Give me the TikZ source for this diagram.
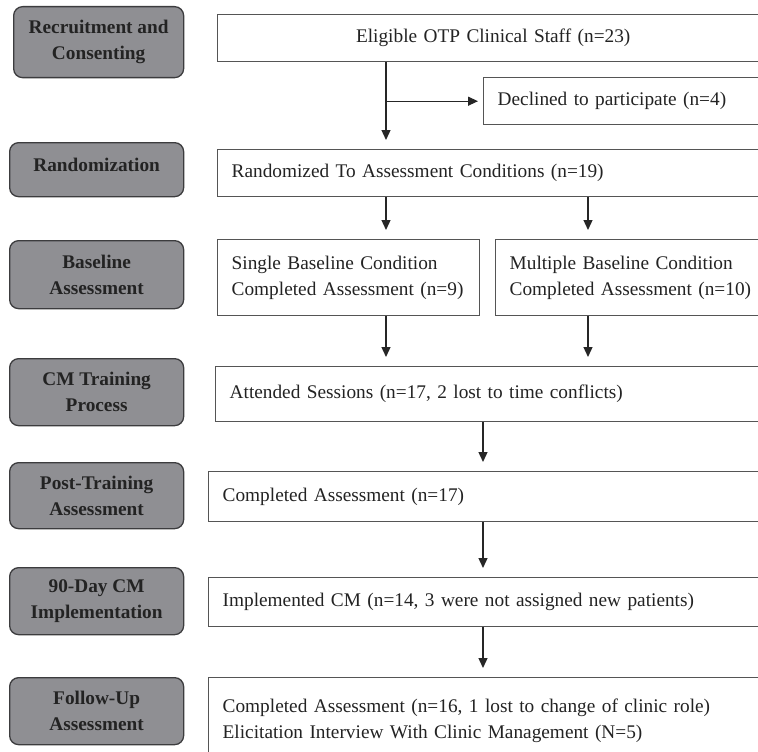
\documentclass[tikz,border=0pt]{standalone}
\usepackage{fontspec}
\setmainfont{Liberation Serif}
\usetikzlibrary{arrows.meta}

\definecolor{stagefill}{RGB}{143,143,147}
\definecolor{stageline}{RGB}{60,60,62}
\definecolor{boxline}{RGB}{85,85,85}
\definecolor{inktext}{RGB}{35,35,35}

\tikzset{
  stage/.style={draw=stageline, fill=stagefill, line width=1.3pt,
    rounded corners=9pt, anchor=north west, align=center,
    inner sep=0pt, text=inktext,
    font=\fontsize{19.3}{26}\selectfont\bfseries},
  infobox/.style={draw=boxline, line width=1.4pt, anchor=north west,
    align=left, inner xsep=14pt, inner ysep=0pt, text=inktext,
    font=\fontsize{19.3}{26}\selectfont},
  arr/.style={draw=black!85, line width=1.3pt,
    -{Triangle[length=10pt,width=9pt]}, shorten >=9pt}
}

\begin{document}
\begin{tikzpicture}[x=1pt,y=-1pt]
	\clip (0,0) rectangle (758,752);
	\fill[white] (0,0) rectangle (758,752);

	%stages
	\node[stage, minimum width=170pt, minimum height=71pt] (Recruit) at (13,6)
		{Recruitment and\\Consenting};
	\node[stage, minimum width=174pt, minimum height=54pt, text depth=9pt] (Random) at (9,142)
		{Randomization};
	\node[stage, minimum width=174pt, minimum height=68pt] (Baseline) at (9,240)
		{Baseline\\Assessment};
	\node[stage, minimum width=174pt, minimum height=67pt] (Training) at (9,358)
		{CM Training\\Process};
	\node[stage, minimum width=174pt, minimum height=66pt] (PostTrain) at (9,462)
		{Post-Training\\Assessment};
	\node[stage, minimum width=174pt, minimum height=67pt] (Implement) at (9,567)
		{90-Day CM\\Implementation};
	\node[stage, minimum width=174pt, minimum height=67pt] (FollowUp) at (9,677)
		{Follow-Up\\Assessment};

	%boxes
	\node[infobox, align=center, text width=523pt, minimum height=47pt] (Eligible) at (217,14)
		{Eligible OTP Clinical Staff (n=23)};
	\node[infobox, text width=262pt, minimum height=47pt] (Declined) at (483,77)
		{Declined to participate (n=4)};
	\node[infobox, text width=528pt, minimum height=47pt] (Randomized) at (217,149)
		{Randomized To Assessment Conditions (n=19)};
	\node[infobox, text width=234pt, minimum height=76pt] (Single) at (217,239)
		{Single Baseline Condition\\Completed Assessment (n=9)};
	\node[infobox, text width=252pt, minimum height=76pt] (Multiple) at (495,239)
		{Multiple Baseline Condition\\Completed Assessment (n=10)};
	\node[infobox, text width=532pt, minimum height=55pt] (Attended) at (215,366)
		{Attended Sessions (n=17, 2 lost to time conflicts)};
	\node[infobox, text width=542pt, minimum height=50pt] (Completed) at (208,471)
		{Completed Assessment (n=17)};
	\node[infobox, text width=542pt, minimum height=49pt] (Implemented) at (208,577)
		{Implemented CM (n=14, 3 were not assigned new patients)};
	\node[infobox, text width=542pt, minimum height=86pt] (Final) at (208,677)
		{Completed Assessment (n=16, 1 lost to change of clinic role)\\
		 Elicitation Interview With Clinic Management (N=5)};

	%arrow columns
	\coordinate (colA) at (386,0);
	\coordinate (colB) at (588,0);
	\coordinate (colC) at (483,0);

	%arrows
	\draw[arr] (Eligible.south -| colA) -- (Randomized.north -| colA);
	\draw[arr, shorten >=5pt] (colA |- Declined.west) -- (Declined.west);
	\draw[arr] (Randomized.south -| colA) -- (Single.north -| colA);
	\draw[arr] (Randomized.south -| colB) -- (Multiple.north -| colB);
	\draw[arr] (Single.south -| colA) -- (Attended.north -| colA);
	\draw[arr] (Multiple.south -| colB) -- (Attended.north -| colB);
	\draw[arr] (Attended.south -| colC) -- (Completed.north -| colC);
	\draw[arr] (Completed.south -| colC) -- (Implemented.north -| colC);
	\draw[arr] (Implemented.south -| colC) -- (Final.north -| colC);
\end{tikzpicture}
\end{document}
